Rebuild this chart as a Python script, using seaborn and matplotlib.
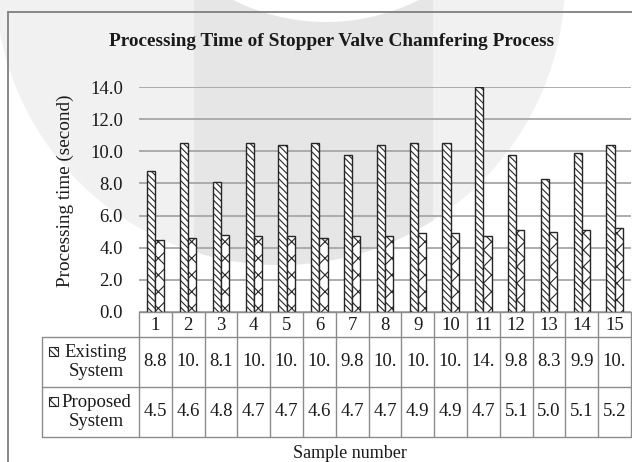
import numpy as np
import pandas as pd
import matplotlib
matplotlib.use('Agg')
import matplotlib.pyplot as plt
from matplotlib.patches import Rectangle, Circle
from matplotlib.transforms import blended_transform_factory
import seaborn as sns

sample_numbers = list(range(1, 16))
existing_time = [8.8, 10.5, 8.1, 10.5, 10.4, 10.5, 9.8, 10.4, 10.5, 10.5, 14.0, 9.8, 8.3, 9.9, 10.4]
proposed_time = [4.5, 4.6, 4.8, 4.7, 4.7, 4.6, 4.7, 4.7, 4.9, 4.9, 4.7, 5.1, 5.0, 5.1, 5.2]
series_names = ['Existing System', 'Proposed System']
y_ticks = [0, 2, 4, 6, 8, 10, 12, 14]

W, H = 632, 462
sns.set_theme(style='white')
plt.rcParams['font.family'] = ['Liberation Serif', 'DejaVu Serif']
plt.rcParams['hatch.linewidth'] = 0.8
txt_color = '#1a1a1a'
line_gray = '#8c8c8c'

fig = plt.figure(figsize=(W / 100, H / 100), dpi=100)


def box(x0, y0, x1, y1):
    # pixel box (origin top-left) -> figure fraction rect
    return [x0 / W, 1 - y1 / H, (x1 - x0) / W, (y1 - y0) / H]


# background layer in pixel units (faint watermark + chart frame)
bg = fig.add_axes([0, 0, 1, 1], zorder=-1)
bg.set_xlim(0, W)
bg.set_ylim(H, 0)
bg.axis('off')
disk = Circle((280, -20), 285, fc='#f1f1f1', ec='none')
bg.add_patch(disk)
band = Rectangle((194, 0), 239, 330, fc='#e6e6e6', ec='none')
bg.add_patch(band)
band.set_clip_path(disk)
bg.add_patch(Circle((326, -185), 207, fc='white', ec='none'))
bg.plot([8, 8], [12, H], color='#7f7f7f', lw=1.3)
bg.plot([8, W], [12, 12], color='#7f7f7f', lw=1.3)

# main plot area
ax = fig.add_axes(box(139, 87, 631, 312))
ax.patch.set_alpha(0)

df = pd.DataFrame({
    'Sample': [str(n) for n in sample_numbers] * 2,
    'Time': existing_time + proposed_time,
    'System': [series_names[0]] * len(existing_time) + [series_names[1]] * len(proposed_time),
})
sns.barplot(data=df, x='Sample', y='Time', hue='System', hue_order=series_names,
            palette=['white', 'white'], edgecolor='#262626', linewidth=1,
            width=0.5, legend=False, errorbar=None, ax=ax)

hatches = ['\\\\\\\\\\', 'xx']
for cont, h in zip(ax.containers, hatches):
    for bar in cont:
        bar.set_hatch(h)

ax.set_ylim(0, 14)
ax.set_xlim(-0.5, 14.5)
ax.set_yticks(y_ticks)
ax.set_yticklabels([f'{v:.1f}' for v in y_ticks], fontsize=13.5, color=txt_color)
ax.set_xticks([])
ax.set_xlabel('')
ax.set_ylabel('')
ax.tick_params(axis='y', length=0, pad=11.5)
ax.yaxis.grid(True, color='#a6a6a6', lw=1.3)
ax.set_axisbelow(True)
for s in ax.spines.values():
    s.set_visible(False)

# data table under the plot: x follows the category axis, y in pixels
trans = blended_transform_factory(ax.transData, bg.transData)
n = len(sample_numbers)
col_px = (631 - 139) / n
label_left = -0.5 - 97 / col_px
row_y = [312, 337, 387, 437]
tkw = dict(transform=trans, clip_on=False, color=line_gray, lw=1)
for x in np.arange(n + 1) - 0.5:
    ax.plot([x, x], [row_y[0], row_y[-1]], **tkw)
ax.plot([label_left, label_left], [row_y[1], row_y[-1]], **tkw)
ax.plot([-0.5, n - 0.5], [row_y[0], row_y[0]], **tkw)
for y in row_y[1:]:
    ax.plot([label_left, n - 0.5], [y, y], **tkw)

fs_tab = 13.5
for j, num in enumerate(sample_numbers):
    ax.text(j, (row_y[0] + row_y[1]) / 2 + 1, str(num), transform=trans, ha='center',
            va='center', fontsize=fs_tab, color=txt_color)
for i, (vals, h, name) in enumerate(zip([existing_time, proposed_time], hatches, series_names)):
    yc = (row_y[i + 1] + row_y[i + 2]) / 2
    for j, v in enumerate(vals):
        ax.text(j, yc, f'{v:.1f}'[:3], transform=trans, ha='center', va='center',
                fontsize=fs_tab, color=txt_color)
    first, second = name.split(' ')
    bg.text(96, yc, f'{first}\n{second}', ha='center', va='center',
            fontsize=fs_tab, color=txt_color, linespacing=1.15)
    bg.add_patch(Rectangle((49, yc - 15), 9, 9, fc='white', ec='#262626', lw=0.8, hatch=h))

fig.text(332 / W, 1 - 41 / H, 'Processing Time of Stopper Valve Chamfering Process',
         ha='center', va='center', fontsize=13.9, fontweight='bold', color=txt_color)
fig.text(65 / W, 1 - 191 / H, 'Processing time (second)', rotation=90,
         ha='center', va='center', fontsize=13.8, color=txt_color)
fig.text(350 / W, 1 - 453 / H, 'Sample number', ha='center', va='center',
         fontsize=13, color=txt_color)

fig.savefig('out.png', dpi=100)
